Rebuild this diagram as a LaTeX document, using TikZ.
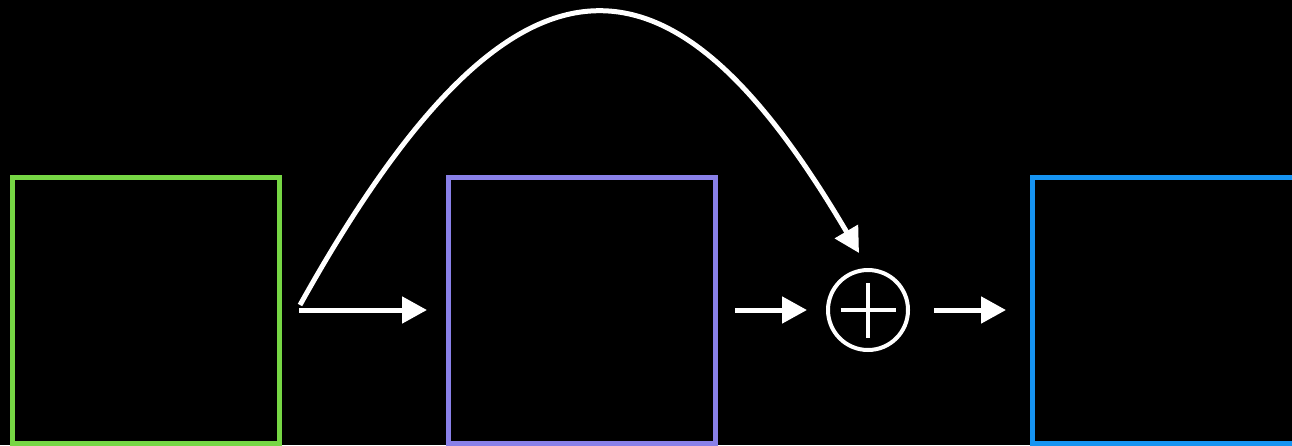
\documentclass[tikz,border=0pt]{standalone}
\usetikzlibrary{arrows.meta}
\definecolor{cgreen}{RGB}{118,214,68}
\definecolor{cpurple}{RGB}{137,128,232}
\definecolor{cblue}{RGB}{22,148,242}
\begin{document}
\begin{tikzpicture}[x=1pt,y=-1pt,
  box/.style={draw,line width=5pt,inner sep=0pt,minimum width=267pt,minimum height=265.5pt},
  arr/.style={draw=white,line width=5pt,-{Triangle[length=25pt,width=26pt]}},
  sumnode/.style={draw=white,line width=4pt,circle,inner sep=0pt,minimum size=80pt}]
\fill[black] (0,0) rectangle (1292,445);
\useasboundingbox (0,0) rectangle (1292,445);
\node[box,draw=cgreen] (g) at (146,310.25) {};
\node[box,draw=cpurple] (p) at (581.5,310.25) {};
\node[box,draw=cblue] (b) at (1166,310.25) {};
\node[sumnode] (s) at (868,310) {};
\draw[white,line width=4pt] ([xshift=-27.5pt]s.center) -- ([xshift=27.5pt]s.center);
\draw[white,line width=4pt] ([yshift=-27.5pt]s.center) -- ([yshift=27.5pt]s.center);
\coordinate (a1s) at (299,310);
\coordinate (a1e) at (427,310);
\coordinate (a2s) at (735,310);
\coordinate (a2e) at (807,310);
\coordinate (a3s) at (934,310);
\coordinate (a3e) at (1006,310);
\coordinate (cs) at (300,305);
\coordinate (ce) at (859,253);
\draw[arr] (a1s) -- (a1e);
\draw[arr] (a2s) -- (a2e);
\draw[arr] (a3s) -- (a3e);
\draw[arr] (cs) .. controls (520,-90) and (675,-60) .. (ce);
\end{tikzpicture}
\end{document}
